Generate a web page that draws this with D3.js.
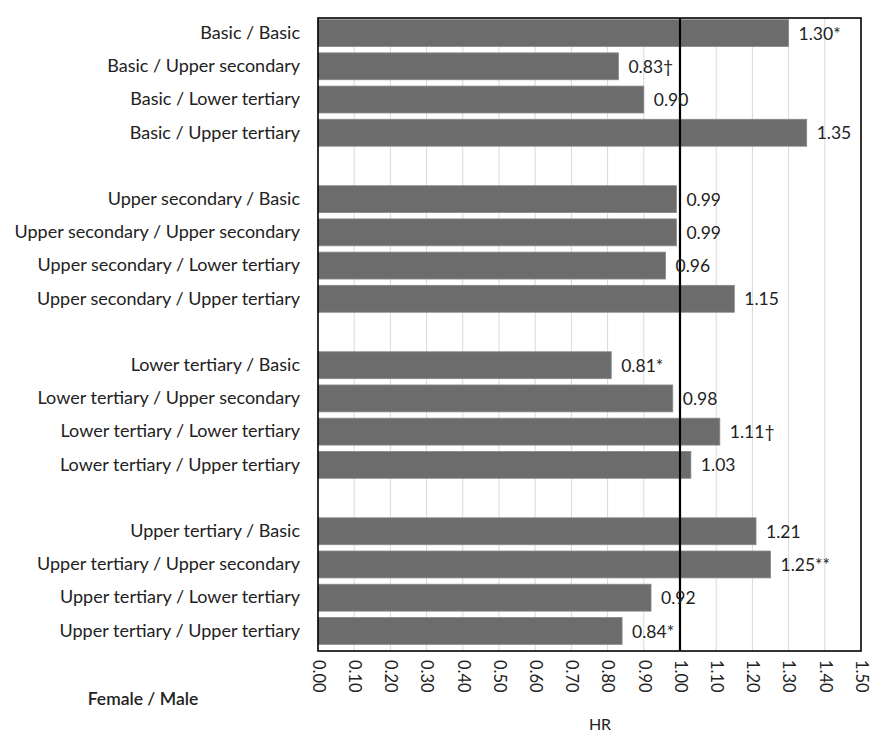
<!DOCTYPE html>
<html>
<head>
<meta charset="utf-8">
<script src="https://cdn.jsdelivr.net/npm/d3@7"></script>
<style>
  html, body { margin: 0; padding: 0; background: #fff; }
  svg { display: block; }
  text { font-family: Lato, "Open Sans", sans-serif; fill: #222; }
</style>
</head>
<body>
<svg id="chart" width="873" height="733"></svg>
<script>
// Hazard ratios by education of couple (female / male)
const categories = [
  "Basic / Basic", "Basic / Upper secondary", "Basic / Lower tertiary", "Basic / Upper tertiary",
  "Upper secondary / Basic", "Upper secondary / Upper secondary", "Upper secondary / Lower tertiary", "Upper secondary /  Upper tertiary",
  "Lower tertiary / Basic", "Lower tertiary / Upper secondary", "Lower tertiary / Lower tertiary", "Lower tertiary / Upper tertiary",
  "Upper tertiary / Basic", "Upper tertiary / Upper secondary", "Upper tertiary / Lower tertiary", "Upper tertiary / Upper tertiary"
];
const hrValues = [1.30, 0.83, 0.90, 1.35, 0.99, 0.99, 0.96, 1.15, 0.81, 0.98, 1.11, 1.03, 1.21, 1.25, 0.92, 0.84];
const significance = ["*", "†", "", "", "", "", "", "", "*", "", "†", "", "", "**", "", "*"];
const groupSize = 4;
const tickValues = d3.range(0, 16).map(i => i / 10);

const svg = d3.select("#chart");
const plotLeft = 318, plotRight = 861, plotTop = 18, plotBottom = 651;
const labelFont = 18;

// slots: each group of four bars followed by an empty slot
const slots = [];
categories.forEach((c, i) => {
  slots.push(c);
  if ((i + 1) % groupSize === 0 && i < categories.length - 1) slots.push("__gap" + i);
});

const x = d3.scaleLinear().domain([0, 1.5]).range([plotLeft, plotRight]);
const y = d3.scaleBand().domain(slots).range([plotTop, plotBottom - 5]).paddingInner(0.19).paddingOuter(0.05);

// gridlines
svg.append("g").selectAll("line").data(tickValues.slice(1, -1)).join("line")
  .attr("x1", d => x(d)).attr("x2", d => x(d))
  .attr("y1", plotTop).attr("y2", plotBottom)
  .attr("stroke", "#d9d9d9").attr("stroke-width", 1);

// bars
const data = categories.map((c, i) => ({ c, v: hrValues[i], s: significance[i] }));
svg.append("g").selectAll("rect").data(data).join("rect")
  .attr("x", x(0))
  .attr("y", d => y(d.c))
  .attr("width", d => x(d.v) - x(0))
  .attr("height", y.bandwidth())
  .attr("fill", "#6c6c6c")
  .attr("stroke", "#888")
  .attr("stroke-width", 0.8);

// reference line at HR = 1
svg.append("line")
  .attr("x1", x(1)).attr("x2", x(1)).attr("y1", plotTop).attr("y2", plotBottom)
  .attr("stroke", "#000").attr("stroke-width", 2.2);

// frame
svg.append("rect")
  .attr("x", plotLeft).attr("y", plotTop).attr("width", plotRight - plotLeft).attr("height", plotBottom - plotTop)
  .attr("fill", "none").attr("stroke", "#000").attr("stroke-width", 1.6);

// value labels
svg.append("g").selectAll("text").data(data).join("text")
  .attr("x", d => x(d.v) + 10)
  .attr("y", d => y(d.c) + y.bandwidth() / 2)
  .attr("dy", "0.38em")
  .attr("font-size", 17.5)
  .text(d => d.v.toFixed(2) + d.s);

// category labels
const yAxis = d3.axisLeft(y).tickValues(categories).tickSize(0).tickPadding(18);
const ya = svg.append("g").attr("transform", `translate(${plotLeft},0)`).call(yAxis);
ya.select(".domain").remove();
ya.selectAll("text").attr("font-size", labelFont).attr("fill", "#222")
  .style("font-family", "Lato, 'Open Sans', sans-serif");

// x axis with rotated tick labels
const xAxis = d3.axisBottom(x).tickValues(tickValues).tickFormat(d3.format(".2f")).tickSize(0);
const xa = svg.append("g").attr("transform", `translate(0,${plotBottom})`).call(xAxis);
xa.select(".domain").remove();
xa.selectAll("text")
  .attr("transform", "rotate(90)")
  .attr("x", 9).attr("y", 0).attr("dy", "0.35em")
  .attr("text-anchor", "start")
  .attr("font-size", 16.5).attr("fill", "#222")
  .style("font-family", "Lato, 'Open Sans', sans-serif");

// titles
svg.append("text").attr("x", 143).attr("y", 705).attr("text-anchor", "middle")
  .attr("font-size", 17.5).attr("font-weight", 600).text("Female / Male");
svg.append("text").attr("x", 600).attr("y", 730).attr("text-anchor", "middle")
  .attr("font-size", 16).text("HR");
</script>
</body>
</html>
